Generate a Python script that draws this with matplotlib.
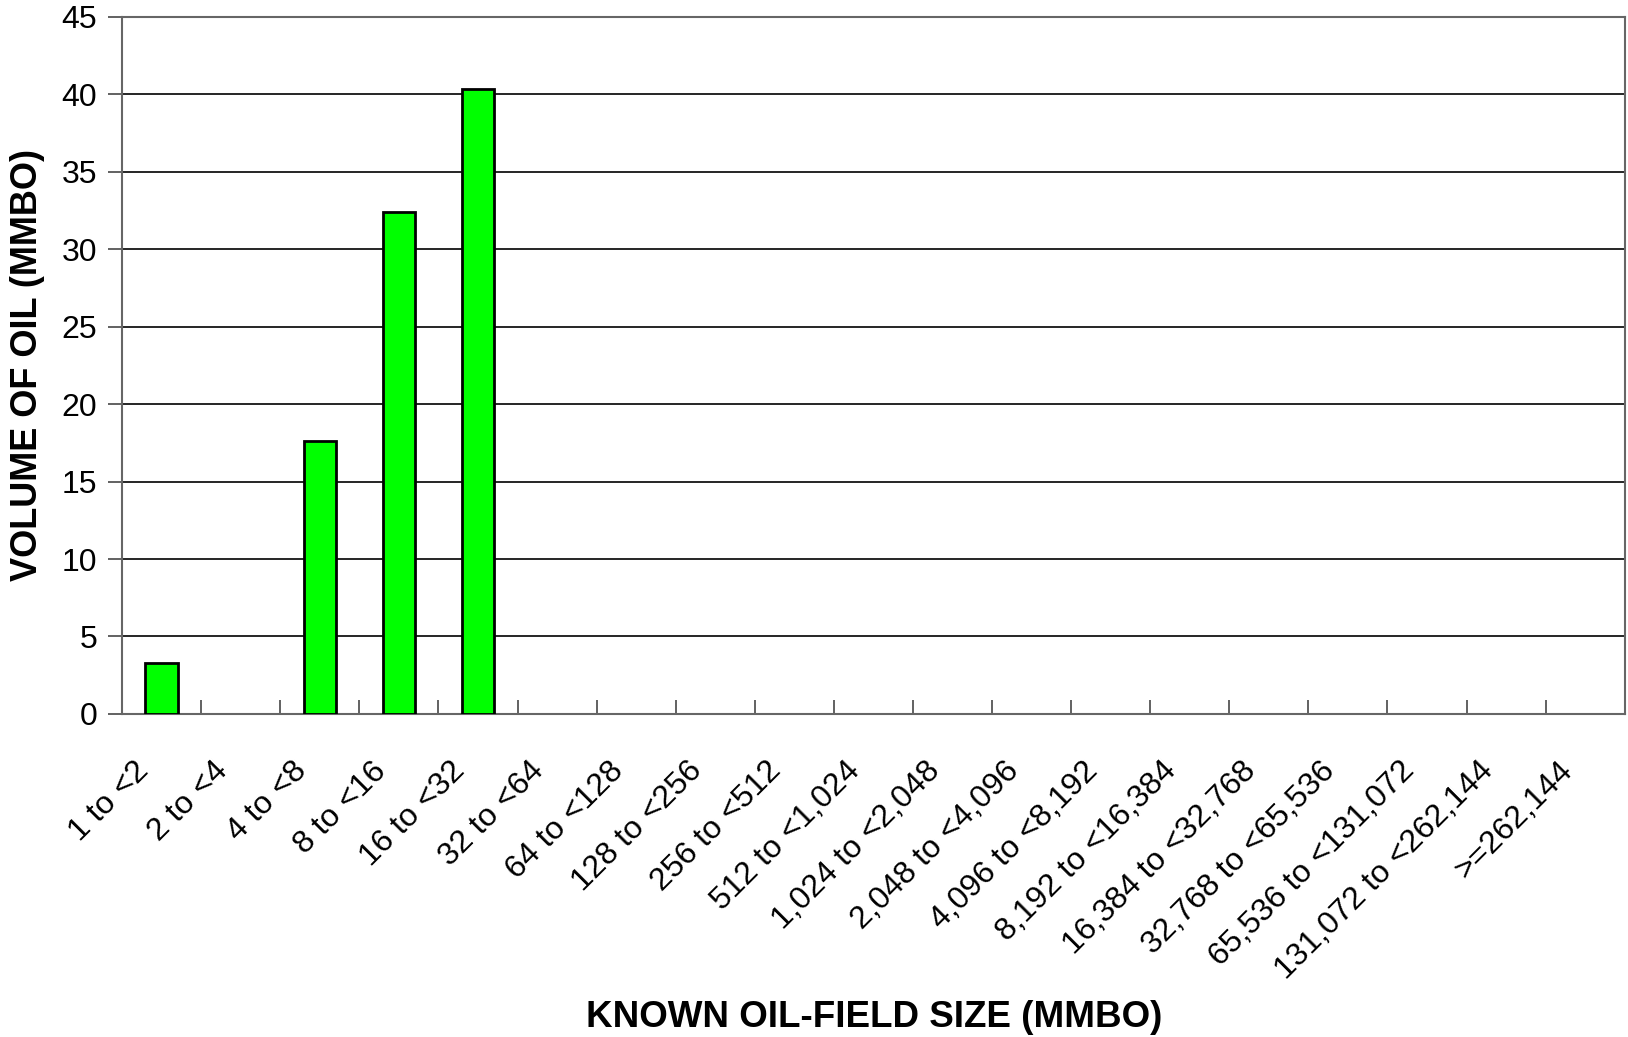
import numpy as np
import matplotlib.pyplot as plt
import matplotlib.transforms as mtransforms
from matplotlib.ticker import FixedLocator, MultipleLocator, NullFormatter

# -------------------- Data --------------------

size_classes = [
    '1 to <2', '2 to <4', '4 to <8', '8 to <16', '16 to <32', '32 to <64',
    '64 to <128', '128 to <256', '256 to <512', '512 to <1,024',
    '1,024 to <2,048', '2,048 to <4,096', '4,096 to <8,192',
    '8,192 to <16,384', '16,384 to <32,768', '32,768 to <65,536',
    '65,536 to <131,072', '131,072 to <262,144', '>=262,144'
]
oil_volume = [3.3, 0, 17.6, 32.4, 40.3, 0, 0, 0, 0, 0, 0, 0, 0, 0, 0, 0, 0, 0, 0]

# -------------------- Plot --------------------

plt.rcParams['font.family'] = ['Liberation Sans', 'DejaVu Sans']

fig = plt.figure(figsize=(16.28, 10.37), dpi=100)
ax = fig.add_axes([0.075, 0.3115, 0.923, 0.6725])

x = np.arange(len(size_classes))
vals = np.array(oil_volume, dtype=float)
has_oil = vals > 0
ax.bar(x[has_oil], vals[has_oil], width=0.41, color='#00ff00', edgecolor='black',
       linewidth=2, zorder=3)

ax.set_xlim(-0.5, len(size_classes) - 0.5)
ax.set_ylim(0, 45)
ax.yaxis.set_major_locator(MultipleLocator(5))
ax.grid(axis='y', color='black', linewidth=1.2, zorder=0)

# category ticks on the boundaries
ax.xaxis.set_major_locator(FixedLocator(np.arange(-0.5, len(size_classes), 1.0)))
ax.xaxis.set_major_formatter(NullFormatter())
ax.tick_params(axis='x', which='major', direction='in', length=10, width=1.3, color='#555555')
ax.tick_params(axis='y', direction='out', length=10, width=1.3, color='#555555',
               labelsize=23, pad=8)

# rotated category labels, placed under each category centre
shift = mtransforms.ScaledTranslation(-28 / 100, -42 / 100, fig.dpi_scale_trans)
label_trans = ax.get_xaxis_transform() + shift
for xi, name in zip(x, size_classes):
    ax.text(xi, 0, name, transform=label_trans, rotation=45, rotation_mode='anchor',
            ha='right', va='top', fontsize=23, clip_on=False)

for side in ['left', 'right', 'bottom', 'top']:
    ax.spines[side].set_color('#666666')
    ax.spines[side].set_linewidth(1.5)

ax.set_ylabel('VOLUME OF OIL (MMBO)', fontsize=26, fontweight='bold', labelpad=12)
fig.text(0.537, 0.019, 'KNOWN OIL-FIELD SIZE (MMBO)', fontsize=26.5, fontweight='bold',
         ha='center', va='center')

fig.savefig('out.png', dpi=100)
